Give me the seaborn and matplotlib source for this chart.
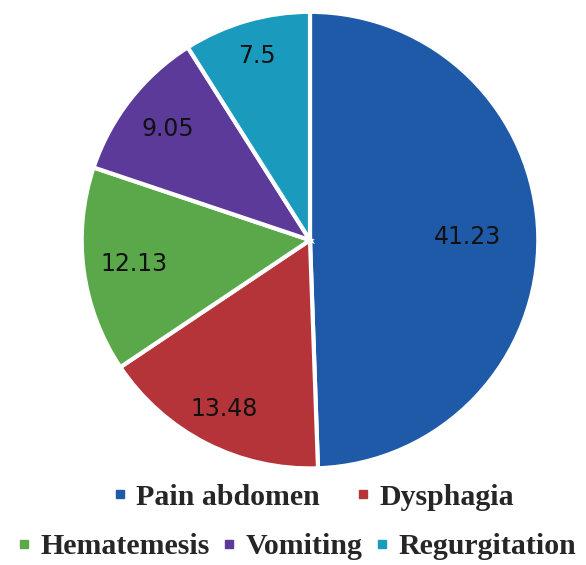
import matplotlib
matplotlib.use("Agg")
import numpy as np
import matplotlib.pyplot as plt
from matplotlib.lines import Line2D
import seaborn as sns

# data
symptoms = ["Pain abdomen", "Dysphagia", "Hematemesis", "Vomiting", "Regurgitation"]
values = [41.23, 13.48, 12.13, 9.05, 7.5]
colors = ["#1f5aa8", "#b5343a", "#5aa84a", "#5b3a9a", "#1a9bbd"]
label_dist = [0.69, 0.83, 0.78, 0.79, 0.84]

sns.set_theme(style="white")

fig = plt.figure(figsize=(5.86, 5.65), dpi=100)
ax = fig.add_axes([0.145, 0.177, 0.768, 0.796])

wedges, texts = ax.pie(
    values, colors=colors, startangle=90, counterclock=False,
    wedgeprops=dict(edgecolor="white", linewidth=3),
)
ax.set_xlim(-0.985, 0.985)
ax.set_ylim(-0.985, 0.985)
ax.set_aspect("equal")

# value labels
for w, v, d in zip(wedges, values, label_dist):
    ang = np.deg2rad((w.theta1 + w.theta2) / 2)
    ax.text(d * np.cos(ang), d * np.sin(ang), f"{v:g}", ha="center", va="center",
            fontsize=17, color="#111111", family="DejaVu Sans")

def handles(idx):
    return [Line2D([], [], marker="s", linestyle="", markersize=6,
                   markerfacecolor=colors[i], markeredgecolor=colors[i]) for i in idx]

font = dict(family="Liberation Serif", size=21.5, weight="bold")
fig.legend(handles([0, 1]), symptoms[:2], ncol=2, loc="center", bbox_to_anchor=(0.535, 0.12),
           frameon=False, prop=font, handlelength=0.5, handletextpad=0.3, columnspacing=1.2)
fig.legend(handles([2, 3, 4]), symptoms[2:], ncol=3, loc="center", bbox_to_anchor=(0.505, 0.032),
           frameon=False, prop=font, handlelength=0.5, handletextpad=0.3, columnspacing=0.4)

fig.savefig("out.png", dpi=100)
